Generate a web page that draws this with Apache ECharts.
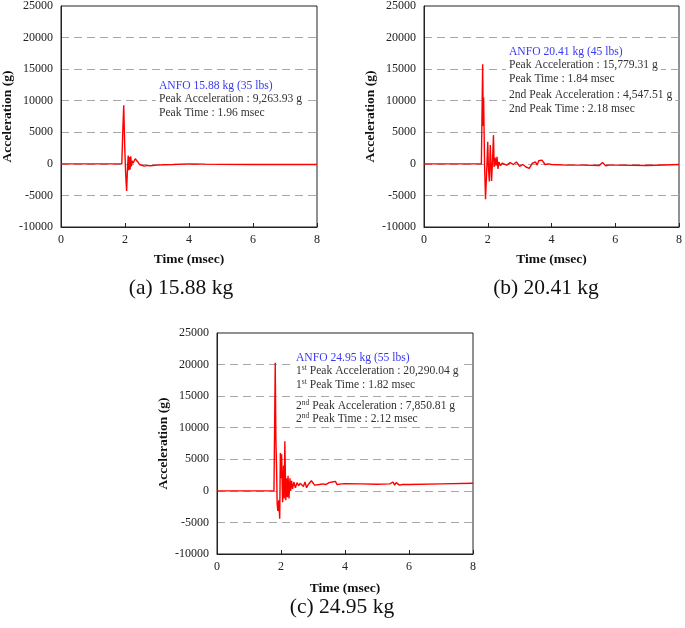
<!DOCTYPE html>
<html><head><meta charset="utf-8">
<script src="https://cdn.jsdelivr.net/npm/echarts@6/dist/echarts.min.js"></script>
<style>html,body{margin:0;padding:0;background:#fff}#c{width:685px;height:628px}</style>
</head><body><div id="c"></div>
<script>
// Panel (a) ANFO 15.88 kg
var timeA = [0,1.9,1.93,1.96,1.99,2.02,2.05,2.08,2.1,2.12,2.14,2.16,2.18,2.2,2.22,2.25,2.28,2.32,2.36,2.4,2.45,2.5,2.6,2.7,2.8,3.0,3.2,3.5,4.0,4.5,5,6,7,8];
var accA  = [0,0,5000,9264,3000,-1500,-4300,-500,1300,-1000,1100,-900,1200,-400,500,100,400,800,600,300,-100,-300,-350,-250,-300,-200,-150,-100,0,-50,-80,-100,-80,-100];
// Panel (b) ANFO 20.41 kg
var timeB = [0,1.3,1.35,1.4,1.8,1.82,1.84,1.86,1.87,1.9,1.93,1.96,2.0,2.02,2.05,2.08,2.1,2.12,2.15,2.18,2.2,2.23,2.26,2.29,2.32,2.35,2.4,2.45,2.5,2.6,2.7,2.8,2.9,3.0,3.1,3.2,3.3,3.4,3.5,3.55,3.6,3.7,3.8,3.9,4.0,4.5,5.0,5.5,5.6,5.65,5.7,5.8,6,7,8];
var accB  = [0,0,200,0,0,8000,15779,6000,10500,0,-5600,-2000,3500,-500,-2800,3000,0,-2700,500,4547,-500,1000,-300,1100,-800,300,-300,100,0,-200,200,-100,300,-400,-100,-500,-700,100,300,-200,500,600,-100,0,-100,-200,-200,-250,200,-100,-300,-200,-200,-250,-100];
// Panel (c) ANFO 24.95 kg
var timeC = [0,1.3,1.35,1.4,1.78,1.8,1.82,1.84,1.86,1.88,1.9,1.93,1.96,1.98,2.0,2.02,2.05,2.08,2.1,2.12,2.15,2.17,2.2,2.22,2.25,2.28,2.3,2.33,2.36,2.4,2.45,2.5,2.55,2.6,2.7,2.75,2.8,2.85,2.95,3.05,3.1,3.2,3.3,3.4,3.5,3.55,3.6,3.65,3.7,3.75,3.8,3.9,4.0,4.5,5.0,5.4,5.5,5.55,5.6,5.7,5.8,6,7,8];
var accC  = [0,0,200,0,0,10000,20290,8000,4000,-2000,-3200,-1500,-4400,6000,2000,5800,-1800,4000,-1200,7850,-1500,2000,-1000,2400,-1200,2000,0,1600,300,1400,500,1300,800,1200,700,1400,500,1000,1600,900,700,1000,1100,1000,1300,1000,1400,1100,1500,1000,1200,1100,1150,1100,1050,1100,1400,900,1300,900,1000,1000,1100,1200];

var xTicks = [0, 8, 2];          // min, max, interval (msec)
var yTicks = [-10000, 25000, 5000]; // min, max, interval (g)
var captions = ['(a) 15.88 kg', '(b) 20.41 kg', '(c) 24.95 kg'];
var headers = ['ANFO 15.88 kg (35 lbs)', 'ANFO 20.41 kg (45 lbs)', 'ANFO 24.95 kg (55 lbs)'];

var SERIF = "'Liberation Serif','Times New Roman',serif";
function pairs(t, a){ return t.map(function(v,i){ return [v, a[i]]; }); }

var grids = [
  {left: 60, top: 5, width: 257, height: 222},
  {left: 424, top: 5, width: 257, height: 222},
  {left: 217, top: 333, width: 256, height: 221}
];
var xAxes = [], yAxes = [], series = [];
var datasets = [[timeA, accA], [timeB, accB], [timeC, accC]];
grids.forEach(function(g, i){
  g.show = true; g.borderColor = '#222'; g.borderWidth = 1; g.backgroundColor = 'transparent';
  xAxes.push({
    type: 'value', gridIndex: i, min: xTicks[0], max: xTicks[1], interval: xTicks[2],
    name: 'Time (msec)', nameLocation: 'middle', nameGap: i === 2 ? 28 : 26,
    nameTextStyle: {fontFamily: SERIF, fontWeight: 'bold', fontSize: 13.5, color: '#111'},
    axisLine: {onZero: false, lineStyle: {color: '#222', width: 1}},
    axisTick: {show: true, inside: true, length: 4, lineStyle: {color: '#222'}},
    axisLabel: {fontFamily: SERIF, fontSize: 12, color: '#222', margin: 7},
    splitLine: {show: false}
  });
  yAxes.push({
    type: 'value', gridIndex: i, min: yTicks[0], max: yTicks[1], interval: yTicks[2],
    name: 'Acceleration (g)', nameLocation: 'middle', nameGap: 46,
    nameTextStyle: {fontFamily: SERIF, fontWeight: 'bold', fontSize: 13.5, color: '#111'},
    axisLine: {show: true, lineStyle: {color: '#222', width: 1}},
    axisTick: {show: false},
    axisLabel: {fontFamily: SERIF, fontSize: 12, color: '#222', margin: 8,
      formatter: function(v){ return String(v); }},
    splitLine: {show: true, showMinLine: false, showMaxLine: false,
      lineStyle: {color: '#a8a8a8', type: [8, 5], width: 1.2}}
  });
  series.push({
    type: 'line', xAxisIndex: i, yAxisIndex: i, data: pairs(datasets[i][0], datasets[i][1]),
    showSymbol: false, symbol: 'none', lineStyle: {color: '#ff0000', width: 1.4}, z: 3
  });
});

var rich = {
  h: {color: '#3838f0', fontFamily: SERIF, fontSize: 11.6, lineHeight: 13.5},
  n: {color: '#333', fontFamily: SERIF, fontSize: 11.6, lineHeight: 13.5},
  s: {color: '#333', fontFamily: SERIF, fontSize: 7.5, lineHeight: 8, verticalAlign: 'top'}
};
function box(text, left, top){
  return {text: text, left: left, top: top, padding: [1, 3, 1, 3], backgroundColor: '#fff',
    textStyle: {rich: rich, fontFamily: SERIF, fontSize: 11.6, fontWeight: 'normal'}, z: 10};
}
var titles = [
  box('{h|' + headers[0] + '}\n{n|Peak Acceleration : 9,263.93 g}\n{n|Peak Time : 1.96 msec}', 156, 78),
  box('{h|' + headers[1] + '}\n{n|Peak Acceleration : 15,779.31 g}\n{n|Peak Time : 1.84 msec}', 506, 44),
  box('{n|2nd Peak Acceleration : 4,547.51 g}\n{n|2nd Peak Time : 2.18 msec}', 506, 87.5),
  box('{h|' + headers[2] + '}\n{n|1}{s|st}{n| Peak Acceleration : 20,290.04 g}\n{n|1}{s|st}{n| Peak Time : 1.82 msec}', 293, 350),
  box('{n|2}{s|nd}{n| Peak Acceleration : 7,850.81 g}\n{n|2}{s|nd}{n| Peak Time : 2.12 msec}', 293, 398)
];

var capPos = [[181, 288], [546, 288], [342, 607]];
var graphics = capPos.map(function(p, i){
  return {type: 'text', x: p[0], y: p[1], style: {text: captions[i], fill: '#111',
    font: "21.5px 'Liberation Serif', serif", textAlign: 'center', textVerticalAlign: 'middle'}};
});

var chart = echarts.init(document.getElementById('c'), null, {renderer: 'canvas'});
chart.setOption({
  animation: false,
  backgroundColor: '#fff',
  title: titles,
  grid: grids, xAxis: xAxes, yAxis: yAxes, series: series,
  graphic: graphics
});
</script></body></html>
